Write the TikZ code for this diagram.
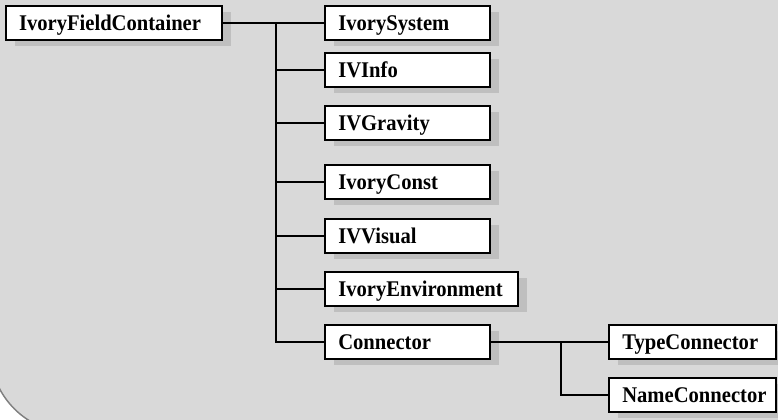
\documentclass[tikz,border=0pt]{standalone}
\usepackage{fontspec}
\setmainfont{Liberation Serif}[FakeStretch=0.92]
\usetikzlibrary{shadows}
\definecolor{bggray}{HTML}{D9D9D9}
\definecolor{rimgray}{HTML}{808080}
\definecolor{shadegray}{HTML}{BFBFBF}
\tikzset{every picture/.style={line width=0.75pt}}
\tikzset{classbox/.style={draw, line width=1.5pt, fill=white, anchor=west,
    text width=#1, inner xsep=9.75pt, inner ysep=0pt, minimum height=25.5pt,
    text height=11.3pt, text depth=0pt,
    align=left, font=\fontsize{16.8}{18}\selectfont\bfseries,
    drop shadow={shadow xshift=6.75pt, shadow yshift=-4.5pt, fill=shadegray, opacity=1}},
  link/.style={line width=1.5pt}}

\begin{document}
\begin{tikzpicture}[x=0.75pt,y=0.75pt,yscale=-1,xscale=1]
\useasboundingbox (0,0) rectangle (778,419);

% Background
\draw [draw=rimgray, fill=bggray, line width=1.1pt, rounded corners=62.4pt] (-10,-60) rectangle (900,433.2);

% Text Node
\node [classbox=142.5pt] (cont) at (5,22.5) {IvoryFieldContainer};
% Text Node
\node [classbox=104.25pt] (ivsys) at (324.3,22.5) {IvorySystem};
% Text Node
\node [classbox=104.25pt] (ivinfo) at (324.3,69.5) {IVInfo};
% Text Node
\node [classbox=104.25pt] (ivgrav) at (324.3,123.3) {IVGravity};
% Text Node
\node [classbox=104.25pt] (ivconst) at (324.3,182) {IvoryConst};
% Text Node
\node [classbox=104.25pt] (ivvis) at (324.3,236) {IVVisual};
% Text Node
\node [classbox=125.25pt] (ivenv) at (324.3,289) {IvoryEnvironment};
% Text Node
\node [classbox=104.25pt] (conn) at (324.3,341.5) {Connector};
% Text Node
\node [classbox=105.75pt] (typeconn) at (608.3,341.5) {TypeConnector};
% Text Node
\node [classbox=105.75pt] (nameconn) at (608.3,395.3) {NameConnector};

% Junctions
\coordinate (j1) at (276,22.5);
\coordinate (j2) at (561.3,341.5);

% Connection
\draw [link] (cont.east) -- (ivsys.west);
% Connection
\foreach \n in {ivinfo,ivgrav,ivconst,ivvis,ivenv,conn}
  \draw [link] (j1) |- (\n.west);
% Connection
\draw [link] (conn.east) -- (typeconn.west);
% Connection
\draw [link] (j2) |- (nameconn.west);

\end{tikzpicture}
\end{document}
